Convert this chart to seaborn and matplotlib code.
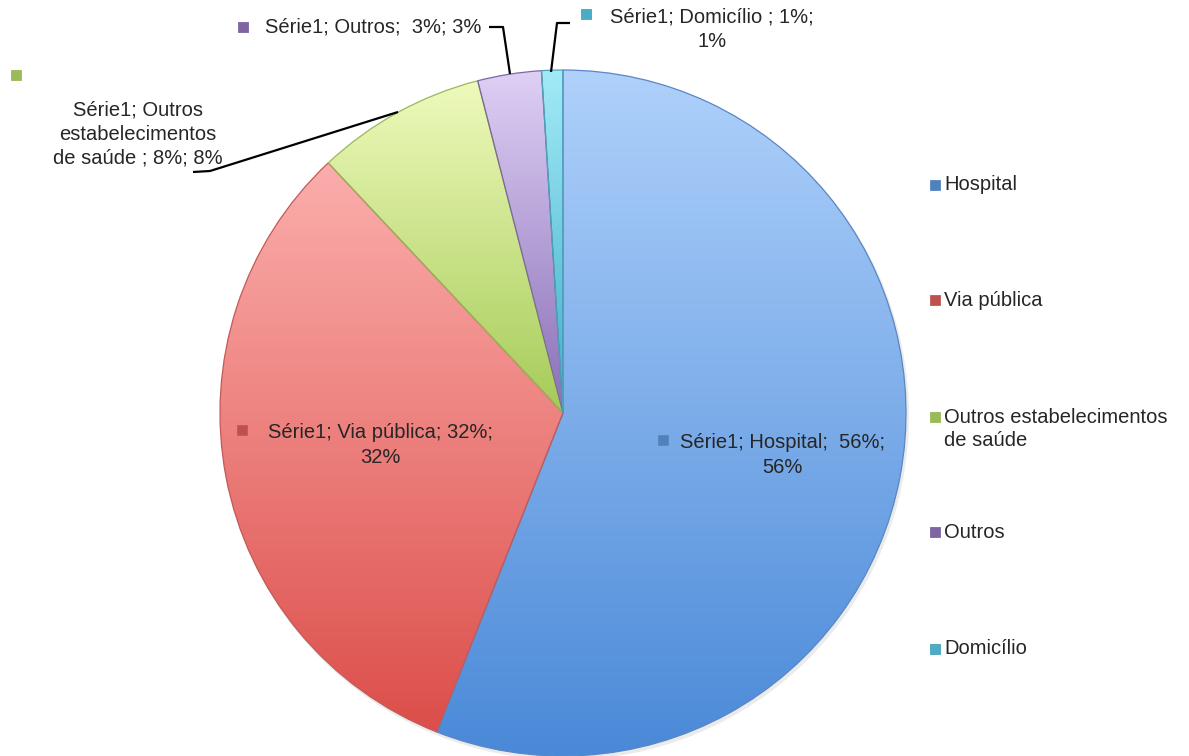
import numpy as np
import matplotlib
matplotlib.use("Agg")
import matplotlib.pyplot as plt
import matplotlib.colors as mcolors
import seaborn as sns

# Local de ocorrência (percentual)
categories = ["Hospital", "Via pública", "Outros estabelecimentos de saúde", "Outros", "Domicílio"]
values = [56, 32, 8, 3, 1]
series_name = "Série1"

# Gradient colours per slice (top, bottom) and legend key colours
grad_top = ["#afd1fb", "#fbaeac", "#eefabc", "#ded0f5", "#a3eaf7"]
grad_bottom = ["#4a89d8", "#dc4e4a", "#a6cb58", "#8a6fb7", "#3eaec7"]
key_colors = ["#4f81bd", "#c0504d", "#9bbb59", "#8064a2", "#4bacc6"]
edge_colors = ["#5a86c4", "#c25a57", "#98b85c", "#7d67a3", "#4aa2b8"]

sns.set_theme(style="white")
plt.rcParams["font.family"] = ["Liberation Sans", "DejaVu Sans"]

W, H = 1189, 756
fig = plt.figure(figsize=(W / 100, H / 100), dpi=100)
ax = fig.add_axes([0, 0, 1, 1])

cx, cy, R = 563, H - 413, 343

# faint drop shadow under the pie
shadow = plt.Circle((cx + 2, cy - 3), R + 1, color="#000000", alpha=0.08, lw=0, zorder=0)
ax.add_patch(shadow)

wedges, _ = ax.pie(values, startangle=90, counterclock=False, radius=R, center=(cx, cy),
                   colors=key_colors, wedgeprops=dict(linewidth=0.9), frame=True)

for i, w in enumerate(wedges):
    t1, t2 = np.deg2rad(w.theta1), np.deg2rad(w.theta2)
    th = np.linspace(t1, t2, 200)
    xs = np.concatenate([[cx], cx + R * np.cos(th)])
    ys = np.concatenate([[cy], cy + R * np.sin(th)])
    x0, x1, y0, y1 = xs.min(), xs.max(), ys.min(), ys.max()
    top = np.array(mcolors.to_rgb(grad_top[i]))
    bot = np.array(mcolors.to_rgb(grad_bottom[i]))
    f = np.linspace(0, 1, 256)[:, None]
    grad = (top * (1 - f) + bot * f)[:, None, :]
    im = ax.imshow(grad, extent=(x0, x1, y0, y1), origin="upper", aspect="auto",
                   interpolation="bilinear", zorder=1)
    im.set_clip_path(w)
    w.set_facecolor("none")
    w.set_edgecolor(edge_colors[i])
    w.set_zorder(2)

ax.set_xlim(0, W)
ax.set_ylim(0, H)
ax.set_aspect("equal")
ax.axis("off")

txt = dict(fontsize=14.5, color="#262626", ha="center", va="center", zorder=5, linespacing=1.36)
ms = 55


def key(x, y, i):
    ax.scatter([x], [H - y], marker="s", s=ms, color=key_colors[i],
               edgecolor=edge_colors[i], linewidth=0.6, zorder=6)


def pct(v):
    return f"{v}%"


# Data labels
key(663, 440, 0)
ax.text(782, H - 455, f"{series_name}; {categories[0]};  {pct(values[0])};\n{pct(values[0])}", **txt)

key(242, 430, 1)
ax.text(380, H - 445, f"{series_name}; {categories[1]}; {pct(values[1])};\n{pct(values[1])}", **txt)

key(16, 75, 2)
ax.text(138, H - 134, f"{series_name}; Outros\nestabelecimentos\nde saúde ; {pct(values[2])}; {pct(values[2])}", **txt)

key(243, 27, 3)
ax.text(373, H - 27, f"{series_name}; {categories[3]};  {pct(values[3])}; {pct(values[3])}", **txt)

key(586, 14, 4)
ax.text(712, H - 29, f"{series_name}; {categories[4]} ; {pct(values[4])};\n{pct(values[4])}", **txt)

# Leader lines
lk = dict(color="black", lw=1.6, zorder=4, solid_capstyle="butt")
ax.plot([193, 210, 398], [H - 172, H - 171, H - 112], **lk)
ax.plot([489, 503, 510], [H - 27, H - 27, H - 74], **lk)
ax.plot([570, 557, 551], [H - 23, H - 23, H - 72], **lk)

# Legend
leg_y = [185, 300, 429, 532, 649]
leg_labels = ["Hospital", "Via pública", "Outros estabelecimentos\nde saúde", "Outros", "Domicílio"]
for i, (y, lab) in enumerate(zip(leg_y, leg_labels)):
    if "\n" in lab:
        key(935, y - 12, i)
    else:
        key(935, y, i)
    ax.text(944, H - y, lab, fontsize=14.5, color="#262626", ha="left", va="center",
            linespacing=1.3, zorder=5)

fig.savefig("out.png", dpi=100)
